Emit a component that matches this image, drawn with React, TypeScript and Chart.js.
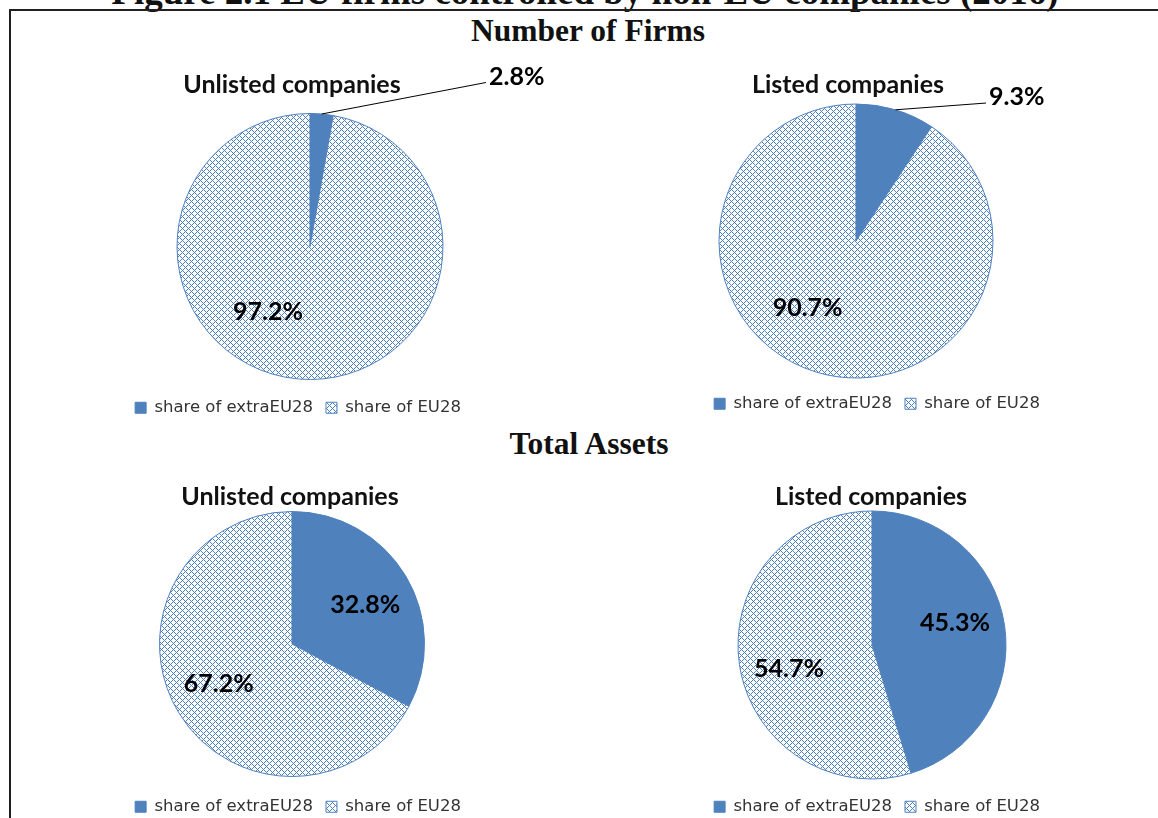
import React, { useEffect, useRef } from "react";
import { Chart, registerables } from "chart.js";

Chart.register(...registerables);

// ---------- data ----------
const categories = ["share of extraEU28", "share of EU28"];
const unlistedFirms = [2.8, 97.2];
const listedFirms = [9.3, 90.7];
const unlistedAssets = [32.8, 67.2];
const listedAssets = [45.3, 54.7];
const chartTitles = ["Unlisted companies", "Listed companies", "Unlisted companies", "Listed companies"];
const sectionTitles = ["Number of Firms", "Total Assets"];
const figureTitle = "Figure 2.1 EU firms controlled by non-EU companies (2016)";

// ---------- style ----------
const BLUE = "#4f81bd";
const LABEL_FONT = "bold 25px Lato";
const LEGEND_FONT_FAMILY = "'DejaVu Sans'";

function makeHatch(): CanvasPattern | string {
  const t = document.createElement("canvas");
  t.width = 6;
  t.height = 6;
  const c = t.getContext("2d");
  if (!c) return BLUE;
  c.fillStyle = "#ffffff";
  c.fillRect(0, 0, 6, 6);
  c.fillStyle = BLUE;
  for (let y = 0; y < 6; y++) {
    for (let x = 0; x < 6; x++) {
      if ((x + y) % 6 === 0 || (x - y + 6) % 6 === 0) c.fillRect(x, y, 1, 1);
    }
  }
  const p = c.createPattern(t, "repeat");
  return p || BLUE;
}

const shiftPlugin = {
  id: "boxShift",
  afterLayout(chart: any, _args: any, opts: any) {
    if (chart.titleBlock) {
      chart.titleBlock.left += opts.title || 0;
      chart.titleBlock.right += opts.title || 0;
    }
    if (chart.legend) {
      chart.legend.left += opts.legend || 0;
      chart.legend.right += opts.legend || 0;
    }
  },
};

const labelPlugin = {
  id: "pieLabels",
  afterDatasetsDraw(chart: any, _args: any, opts: any) {
    const meta = chart.getDatasetMeta(0);
    const data = chart.data.datasets[0].data as number[];
    const ctx = chart.ctx as CanvasRenderingContext2D;
    ctx.save();
    ctx.font = LABEL_FONT;
    ctx.fillStyle = "#000000";
    meta.data.forEach((arc: any, i: number) => {
      const p = arc.getProps(["x", "y", "outerRadius", "startAngle", "endAngle"], true);
      const place = opts.places[i];
      const text = data[i].toFixed(1) + "%";
      const px = p.x + place.dx * p.outerRadius;
      const py = p.y + place.dy * p.outerRadius;
      if (place.leader) {
        const mid = (p.startAngle + p.endAngle) / 2;
        const sx = p.x + Math.cos(mid) * p.outerRadius;
        const sy = p.y + Math.sin(mid) * p.outerRadius;
        ctx.beginPath();
        ctx.moveTo(sx, sy);
        ctx.lineTo(px, py);
        ctx.strokeStyle = "#000000";
        ctx.lineWidth = 1;
        ctx.stroke();
        ctx.textAlign = "left";
        ctx.textBaseline = "alphabetic";
        ctx.fillText(text, px + 3, py + 2);
      } else {
        ctx.textAlign = "center";
        ctx.textBaseline = "middle";
        ctx.fillText(text, px, py);
      }
    });
    ctx.restore();
  },
};

type Place = { dx: number; dy: number; leader?: boolean };

type PieProps = {
  values: number[];
  title: string;
  left: number;
  top: number;
  width: number;
  height: number;
  radius: number;
  titlePad: { top: number; bottom: number };
  titleShift: number;
  legendShift: number;
  places: Place[];
};

function PieChart(props: PieProps) {
  const ref = useRef<HTMLCanvasElement | null>(null);
  useEffect(() => {
    if (!ref.current) return;
    const hatch = makeHatch();
    const chart = new Chart(ref.current, {
      type: "pie",
      data: {
        labels: categories,
        datasets: [
          {
            data: props.values,
            backgroundColor: [BLUE, hatch as any],
            borderColor: [BLUE, BLUE],
            borderWidth: 1,
            radius: props.radius,
          } as any,
        ],
      },
      options: {
        animation: false,
        responsive: false,
        maintainAspectRatio: false,
        layout: { padding: 0 },
        plugins: {
          title: {
            display: true,
            text: props.title,
            color: "#111111",
            font: { family: "Lato", size: 25, weight: "bold", lineHeight: 1 },
            padding: props.titlePad,
          },
          legend: {
            display: true,
            position: "bottom",
            labels: {
              boxWidth: 11,
              boxHeight: 11,
              padding: 13,
              color: "#333333",
              font: { family: LEGEND_FONT_FAMILY, size: 16.5 },
            },
          },
          tooltip: { enabled: false },
          boxShift: { title: props.titleShift, legend: props.legendShift },
          pieLabels: { places: props.places },
        } as any,
      },
      plugins: [shiftPlugin, labelPlugin],
    });
    return () => chart.destroy();
  }, []);
  return (
    <canvas
      ref={ref}
      width={props.width}
      height={props.height}
      style={{ position: "absolute", left: props.left, top: props.top, width: props.width, height: props.height }}
    />
  );
}

const headingStyle: React.CSSProperties = {
  position: "absolute",
  left: 0,
  width: 1176,
  textAlign: "center",
  fontFamily: "'Liberation Serif', serif",
  fontWeight: "bold",
  fontSize: 31.5,
  lineHeight: "40px",
  color: "#111111",
  whiteSpace: "nowrap",
};

export default function App() {
  return (
    <div
      style={{
        position: "fixed",
        left: 0,
        top: 0,
        width: 1158,
        height: 818,
        overflow: "hidden",
        background: "#ffffff",
      }}
    >
      <div style={{ ...headingStyle, width: 1170, fontSize: 37, top: -28.5 }}>{figureTitle}</div>
      <div
        style={{
          position: "absolute",
          left: 9,
          top: 9,
          width: 2000,
          height: 2000,
          borderLeft: "2px solid #231f20",
          borderTop: "2px solid #231f20",
        }}
      />
      <div style={{ ...headingStyle, top: 11.4 }}>{sectionTitles[0]}</div>
      <div style={{ ...headingStyle, width: 1178, top: 424.4 }}>{sectionTitles[1]}</div>

      <PieChart
        values={unlistedFirms}
        title={chartTitles[0]}
        left={50}
        top={60}
        width={520}
        height={366}
        radius={133}
        titlePad={{ top: 12.5, bottom: 9 }}
        titleShift={-18}
        legendShift={-12}
        places={[
          { dx: 1.323, dy: -1.233, leader: true },
          { dx: -0.316, dy: 0.489 },
        ]}
      />
      <PieChart
        values={listedFirms}
        title={chartTitles[1]}
        left={596}
        top={60}
        width={520}
        height={362}
        radius={137}
        titlePad={{ top: 12.5, bottom: 2 }}
        titleShift={-8}
        legendShift={21}
        places={[
          { dx: 0.949, dy: -1.007, leader: true },
          { dx: -0.353, dy: 0.485 },
        ]}
      />
      <PieChart
        values={unlistedAssets}
        title={chartTitles[2]}
        left={32}
        top={472}
        width={520}
        height={353}
        radius={132.5}
        titlePad={{ top: 12.5, bottom: -7 }}
        titleShift={-2}
        legendShift={6}
        places={[
          { dx: 0.553, dy: -0.295 },
          { dx: -0.553, dy: 0.303 },
        ]}
      />
      <PieChart
        values={listedAssets}
        title={chartTitles[3]}
        left={612}
        top={472}
        width={520}
        height={353}
        radius={134}
        titlePad={{ top: 12.5, bottom: -5 }}
        titleShift={-1}
        legendShift={5}
        places={[
          { dx: 0.619, dy: -0.164 },
          { dx: -0.619, dy: 0.179 },
        ]}
      />
    </div>
  );
}
